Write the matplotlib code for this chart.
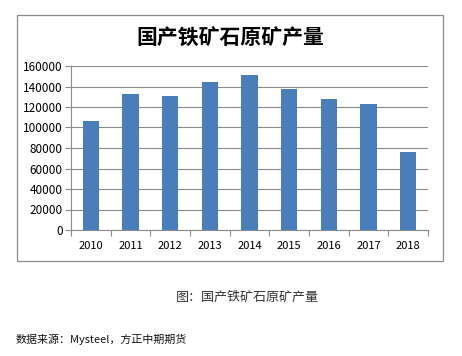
import matplotlib
matplotlib.use("Agg")
import matplotlib.pyplot as plt
from matplotlib.patches import Rectangle

plt.rcParams['font.family'] = ['Noto Sans CJK SC', 'DejaVu Sans']

years = ['2010', '2011', '2012', '2013', '2014', '2015', '2016', '2017', '2018']
output = [106300, 132400, 130400, 144400, 150900, 137600, 127800, 122900, 75800]
yticks = [0, 20000, 40000, 60000, 80000, 100000, 120000, 140000, 160000]
title = '国产铁矿石原矿产量'
caption = '图：国产铁矿石原矿产量'
source = '数据来源：Mysteel，方正中期期货'

W, H = 462, 356
fig = plt.figure(figsize=(W/100, H/100), dpi=100)
fig.patch.set_facecolor('white')

# outer chart box
fig.patches.append(Rectangle((17/W, 1-261/H), (443-17)/W, (261-15)/H,
                             transform=fig.transFigure, fill=False,
                             edgecolor='#8c8c8c', linewidth=0.9))

ax = fig.add_axes([71/W, 1-230/H, (428-71)/W, (230-66)/H])
x = range(len(years))
ax.bar(x, output, width=0.41, color='#4a7ebb', zorder=3)
ax.set_xlim(-0.5, len(years)-0.5)
ax.set_ylim(0, 160000)
ax.set_yticks(yticks)
ax.set_yticklabels([str(v) for v in yticks], fontsize=8.5)
ax.set_xticks(list(x))
ax.set_xticklabels(years, fontsize=8)
ax.tick_params(axis='x', length=0, pad=8)
ax.set_xticks([i - 0.5 for i in range(len(years)+1)], minor=True)
ax.tick_params(axis='x', which='minor', length=4, color='#8c8c8c', width=0.8)
ax.tick_params(axis='y', length=4, color='#8c8c8c', width=0.8, pad=2)
ax.grid(axis='y', color='#8c8c8c', linewidth=0.8, zorder=0)
for s in ['top', 'right']:
    ax.spines[s].set_visible(False)
ax.spines['left'].set_color('#8c8c8c')
ax.spines['bottom'].set_color('#8c8c8c')
ax.spines['left'].set_linewidth(0.8)
ax.spines['bottom'].set_linewidth(0.8)

fig.text(230/W, 1-38/H, title, ha='center', va='center', fontsize=15, fontweight='bold')
fig.text(247/W, 1-297/H, caption, ha='center', va='center', fontsize=9.4, color='#333333')
fig.text(16/W, 1-339/H, source, ha='left', va='center', fontsize=7.9, style='italic', color='#111111')

fig.savefig('out.png', dpi=100)
